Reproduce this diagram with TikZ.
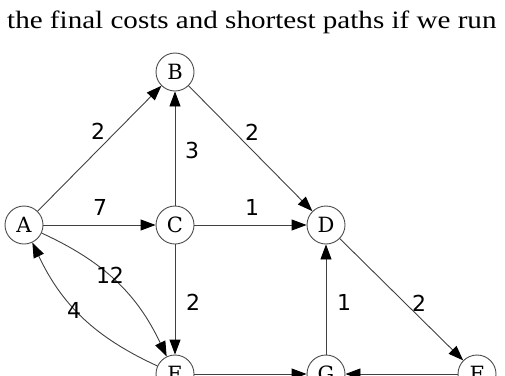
\documentclass[tikz,border=0pt]{standalone}
\usepackage{fontspec}
\setmainfont{Liberation Serif}
\newfontfamily\titlefont[FakeStretch=1.163]{Liberation Serif}
\newfontfamily\nodefont{DejaVu Serif}
\newfontfamily\labfont{DejaVu Sans}
\usetikzlibrary{arrows.meta}
\begin{document}
\begin{tikzpicture}[x=1pt,y=-1pt,
  vertex/.style={circle, draw=black!70, line width=0.9pt, minimum size=38pt, inner sep=0pt,
    font=\nodefont\fontsize{21}{21}\selectfont, fill=white},
  edge/.style={draw=black!75, line width=0.9pt, -{Triangle[length=15pt,width=11pt,color=black]}},
  lab/.style={font=\labfont\fontsize{22}{22}\selectfont, text=black, inner sep=0pt},
  title/.style={font=\titlefont\fontsize{25}{25}\selectfont, inner sep=0pt, anchor=base west}]
\useasboundingbox (0,0) rectangle (505,375);
\clip (0,0) rectangle (505,375);
\node[title] (t) at (7,28) {the final costs and shortest paths if we run};
\node[vertex] (A) at (24,225) {A};
\node[vertex] (B) at (175,72) {B};
\node[vertex] (C) at (175,225) {C};
\node[vertex] (D) at (326,225) {D};
\node[vertex] (E) at (175,374) {E};
\node[vertex] (G) at (326,374) {G};
\node[vertex] (F) at (477,374) {F};
\draw[edge] (A) -- (B);
\draw[edge] (C) -- (B);
\draw[edge] (B) -- (D);
\draw[edge] (A) -- (C);
\draw[edge] (C) -- (D);
\draw[edge] (A) to[bend left=20] (E);
\draw[edge] (E) to[bend left=20] (A);
\draw[edge] (C) -- (E);
\draw[edge] (G) -- (D);
\draw[edge] (D) -- (F);
\draw[edge] (E) -- (G);
\draw[edge] (F) -- (G);
\node[lab] (l1) at (98,131) {2};
\node[lab] (l2) at (192,150) {3};
\node[lab] (l3) at (252,132) {2};
\node[lab] (l4) at (100,207) {7};
\node[lab] (l5) at (252,207) {1};
\node[lab] (l6) at (110,275) {12};
\node[lab] (l7) at (74,310) {4};
\node[lab] (l8) at (193,302) {2};
\node[lab] (l9) at (344,302) {1};
\node[lab] (l10) at (419,303) {2};
\end{tikzpicture}
\end{document}
